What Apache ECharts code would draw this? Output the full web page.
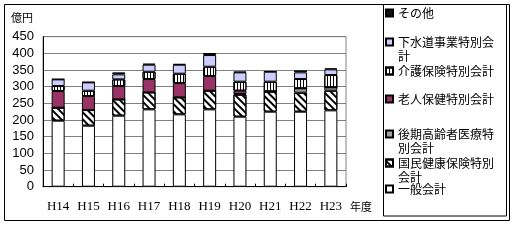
<!DOCTYPE html>
<html><head><meta charset="utf-8">
<script src="https://cdn.jsdelivr.net/npm/echarts@6/dist/echarts.min.js"></script>
<style>html,body{margin:0;padding:0;background:#fff}#c{width:520px;height:242px}</style>
</head><body><div id="c"></div>
<script>
const categories = ['H14','H15','H16','H17','H18','H19','H20','H21','H22','H23'];
const ippan   = [198, 183, 213, 232, 217, 232, 210, 225, 225, 229];
const kokuho  = [39, 47, 49, 51, 51, 56, 66, 60, 57, 59];
const kouki   = [0, 0, 0, 0, 0, 0, 2, 1, 13, 10];
const rojin   = [50, 42, 40, 40, 43, 44, 10, 0, 0, 0];
const kaigo   = [15, 16, 20, 22, 28, 28, 27, 29, 28, 37];
const gesui   = [20, 25, 15, 21, 27, 35, 28, 30, 20, 17];
const sonota  = [1, 1, 6, 3, 2, 6, 2, 1, 6, 3];
const yTicks = [0, 50, 100, 150, 200, 250, 300, 350, 400, 450];

const font = '"Noto Sans CJK JP", "Noto Sans", sans-serif';
const border = {borderColor:'#000', borderWidth:1};
const seriesDefs = [
  {name:'一般会計', data:ippan, itemStyle:Object.assign({color:'#ffffff'}, border)},
  {name:'国民健康保険特別会計', data:kokuho, itemStyle:Object.assign({color:'#ffffff', decal:{symbol:'rect', color:'#000', dashArrayX:[1,0], dashArrayY:[2,2.5], rotation:Math.PI/4}}, border)},
  {name:'後期高齢者医療特別会計', data:kouki, itemStyle:Object.assign({color:'#a0a0a0'}, border)},
  {name:'老人保健特別会計', data:rojin, itemStyle:Object.assign({color:'#993366'}, border)},
  {name:'介護保険特別会計', data:kaigo, itemStyle:Object.assign({color:'#ffffff', decal:{symbol:'rect', color:'#000', dashArrayX:[1,2], dashArrayY:[1,0]}}, border)},
  {name:'下水道事業特別会計', data:gesui, itemStyle:Object.assign({color:'#ccccff'}, border)},
  {name:'その他', data:sonota, itemStyle:Object.assign({color:'#111111'}, border)}
];
const series = seriesDefs.map(s => ({
  name:s.name, type:'bar', stack:'a', data:s.data, barWidth:13,
  itemStyle:s.itemStyle, emphasis:{disabled:true}, animation:false
}));

const legendLayout = [
  {name:'その他', label:'その他', top:6},
  {name:'下水道事業特別会計', label:'\n下水道事業特別会\n計', top:21},
  {name:'介護保険特別会計', label:'介護保険特別会計', top:64},
  {name:'老人保健特別会計', label:'老人保健特別会計', top:92},
  {name:'後期高齢者医療特別会計', label:'\n後期高齢者医療特\n別会計', top:113},
  {name:'国民健康保険特別会計', label:'\n国民健康保険特別\n会計', top:142},
  {name:'一般会計', label:'一般会計', top:182}
];
const legends = legendLayout.map(l => ({
  data:[l.name], left:385, top:l.top, orient:'vertical', padding:0,
  itemWidth:7, itemHeight:7, icon:'rect', selectedMode:false,
  formatter:() => l.label,
  textStyle:{fontFamily:font, fontSize:12, color:'#000', lineHeight:14}
}));

const chart = echarts.init(document.getElementById('c'), null, {renderer:'canvas'});
chart.setOption({
  animation:false,
  backgroundColor:'#fff',
  legend:legends,
  grid:{left:43, right:174, top:36.7, bottom:55.3, show:true, borderColor:'#808080', borderWidth:1},
  xAxis:{
    type:'category', data:categories,
    axisLine:{lineStyle:{color:'#000', width:1}},
    axisTick:{show:true, inside:true, length:3, lineStyle:{color:'#000'}},
    axisLabel:{fontFamily:'"Liberation Serif", serif', fontSize:13, color:'#000', margin:13}
  },
  yAxis:{
    type:'value', min:0, max:450, interval:50,
    axisLine:{show:true, lineStyle:{color:'#000', width:1}},
    axisTick:{show:false},
    splitLine:{lineStyle:{color:'#808080', width:1}},
    axisLabel:{fontFamily:'"Liberation Sans", sans-serif', fontSize:13, color:'#000', margin:9,
      formatter:v => yTicks.includes(v) ? String(v) : ''},
    name:'億円', nameLocation:'end', nameGap:13,
    nameTextStyle:{fontFamily:font, fontSize:11, color:'#000', padding:[0,42,0,0]}
  },
  graphic:[
    {type:'rect', shape:{x:4.5, y:4.5, width:505, height:216}, style:{fill:'none', stroke:'#000', lineWidth:1}, silent:true, z:-1},
    {type:'rect', shape:{x:383.5, y:4.5, width:123, height:211.5}, style:{fill:'none', stroke:'#000', lineWidth:1}, silent:true, z:-1},
    {type:'text', left:350, top:201, style:{text:'年度', font:'11px "Noto Sans CJK JP", sans-serif', fill:'#000'}, silent:true}
  ],
  series:series
});
</script></body></html>
